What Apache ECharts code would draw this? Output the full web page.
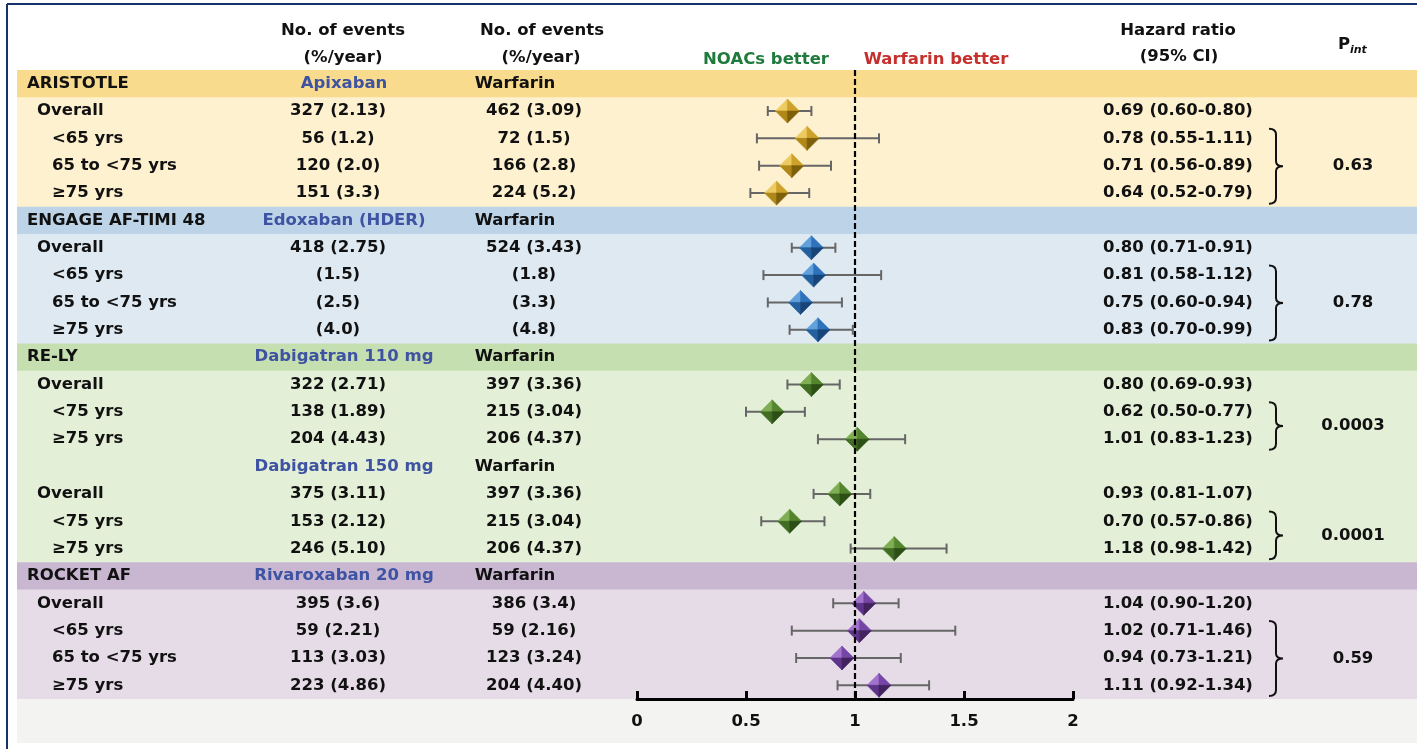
<!DOCTYPE html>
<html><head><meta charset="utf-8">
<script src="https://cdn.jsdelivr.net/npm/echarts@6/dist/echarts.min.js"></script>
<style>html,body{margin:0;padding:0;background:#fff}#c{width:1417px;height:749px}</style>
</head><body><div id="c"></div>
<script>
const trials = ['ARISTOTLE', 'ENGAGE AF-TIMI 48', 'RE-LY', 'ROCKET AF'];
const rowLabels = ['ARISTOTLE', 'Overall', '<65 yrs', '65 to <75 yrs', '≥75 yrs',
  'ENGAGE AF-TIMI 48', 'Overall', '<65 yrs', '65 to <75 yrs', '≥75 yrs',
  'RE-LY', 'Overall', '<75 yrs', '≥75 yrs',
  '', 'Overall', '<75 yrs', '≥75 yrs',
  'ROCKET AF', 'Overall', '<65 yrs', '65 to <75 yrs', '≥75 yrs'];
const rowKinds = ['study', 'overall', 'sub', 'sub', 'sub',
  'study', 'overall', 'sub', 'sub', 'sub',
  'study', 'overall', 'sub', 'sub',
  'drug', 'overall', 'sub', 'sub',
  'study', 'overall', 'sub', 'sub', 'sub'];
const rowTrial = [0, 0, 0, 0, 0, 1, 1, 1, 1, 1, 2, 2, 2, 2, 2, 2, 2, 2, 3, 3, 3, 3, 3];
const noacEvents = ['Apixaban', '327 (2.13)', '56 (1.2)', '120 (2.0)', '151 (3.3)',
  'Edoxaban (HDER)', '418 (2.75)', '(1.5)', '(2.5)', '(4.0)',
  'Dabigatran 110 mg', '322 (2.71)', '138 (1.89)', '204 (4.43)',
  'Dabigatran 150 mg', '375 (3.11)', '153 (2.12)', '246 (5.10)',
  'Rivaroxaban 20 mg', '395 (3.6)', '59 (2.21)', '113 (3.03)', '223 (4.86)'];
const warfarinEvents = ['Warfarin', '462 (3.09)', '72 (1.5)', '166 (2.8)', '224 (5.2)',
  'Warfarin', '524 (3.43)', '(1.8)', '(3.3)', '(4.8)',
  'Warfarin', '397 (3.36)', '215 (3.04)', '206 (4.37)',
  'Warfarin', '397 (3.36)', '215 (3.04)', '206 (4.37)',
  'Warfarin', '386 (3.4)', '59 (2.16)', '123 (3.24)', '204 (4.40)'];
const hazardRatio = [null, 0.69, 0.78, 0.71, 0.64, null, 0.80, 0.81, 0.75, 0.83, null, 0.80, 0.62, 1.01, null, 0.93, 0.70, 1.18, null, 1.04, 1.02, 0.94, 1.11];
const ciLower = [null, 0.60, 0.55, 0.56, 0.52, null, 0.71, 0.58, 0.60, 0.70, null, 0.69, 0.50, 0.83, null, 0.81, 0.57, 0.98, null, 0.90, 0.71, 0.73, 0.92];
const ciUpper = [null, 0.80, 1.11, 0.89, 0.79, null, 0.91, 1.12, 0.94, 0.99, null, 0.93, 0.77, 1.23, null, 1.07, 0.86, 1.42, null, 1.20, 1.46, 1.21, 1.34];
const interactionRows = [[2, 4], [7, 9], [12, 13], [16, 17], [20, 22]];
const pInteraction = ['0.63', '0.78', '0.0003', '0.0001', '0.59'];
const xTicks = [0, 0.5, 1, 1.5, 2];

// styling
const FONT = 'bold 16.5px "DejaVu Sans"';
const TXT = '#111';
const DRUG = '#3E53A2';
const bandColors = [['#F9DB8E', '#FEF1CF'], ['#BCD3E8', '#DEE9F2'], ['#C6DFB0', '#E3EFD6'], ['#C9B7D2', '#E6DCE8']];
const facets = [
  ['#EDCB62', '#CDA12A', '#B08818', '#7E600C'],
  ['#62A0DC', '#2E72BC', '#245F9E', '#17457A'],
  ['#7FAE55', '#52852E', '#406D23', '#2C4F16'],
  ['#A173CC', '#7646A6', '#5E348A', '#43235F']
];
const fmt = v => v.toFixed(2);

const chart = echarts.init(document.getElementById('c'), null, {renderer: 'canvas'});

function txt(x, y, text, align, fill) {
  return {type: 'text', x: x, y: y, style: {text: text, font: FONT, fill: fill || TXT, align: align, verticalAlign: 'middle', textAlign: align, textVerticalAlign: 'middle'}};
}

const rowIdx = rowLabels.map((_, i) => i);

chart.setOption({
  animation: false,
  grid: {left: 637, right: 344, top: 70, height: 629, containLabel: false},
  xAxis: {
    type: 'value', min: xTicks[0], max: xTicks[xTicks.length - 1], interval: 0.5,
    axisLine: {show: true, lineStyle: {color: '#000', width: 3}},
    axisTick: {show: true, inside: true, length: 8, lineStyle: {color: '#000', width: 3}},
    axisLabel: {margin: 14, fontFamily: 'DejaVu Sans', fontWeight: 'bold', fontSize: 16.5, color: '#111'},
    splitLine: {show: false}
  },
  yAxis: {type: 'category', inverse: true, data: rowIdx.map(String), show: false},
  graphic: [
    {type: 'line', shape: {x1: 7, y1: 4, x2: 1417, y2: 4}, style: {stroke: '#17336B', lineWidth: 2}},
    {type: 'line', shape: {x1: 7, y1: 4, x2: 7, y2: 749}, style: {stroke: '#17336B', lineWidth: 2}},
    txt(343, 31, 'No. of events', 'center'),
    txt(343, 58, '(%/year)', 'center'),
    txt(542, 31, 'No. of events', 'center'),
    txt(541, 58, '(%/year)', 'center'),
    txt(766, 60, 'NOACs better', 'center', '#1F7A3C'),
    txt(936, 60, 'Warfarin better', 'center', '#C5302D'),
    txt(1178, 31, 'Hazard ratio', 'center'),
    txt(1179, 57, '(95% CI)', 'center'),
    {type: 'text', x: 1350, y: 45, style: {text: 'P', font: FONT, fill: TXT, align: 'right', verticalAlign: 'middle', textAlign: 'right', textVerticalAlign: 'middle'}},
    {type: 'text', x: 1350, y: 50, style: {text: 'int', font: 'italic bold 11px "DejaVu Sans"', fill: TXT, align: 'left', verticalAlign: 'middle', textAlign: 'left', textVerticalAlign: 'middle'}}
  ],
  series: [
    {
      type: 'custom', z: -1, clip: false, silent: true,
      data: rowIdx.map(i => [0, i]),
      encode: {x: 0, y: 1},
      renderItem: function (params, api) {
        const i = api.value(1);
        const h = api.size([0, 1])[1];
        const yc = api.coord([0, i])[1];
        const W = api.getWidth();
        const col = bandColors[rowTrial[i]][rowKinds[i] === 'study' ? 0 : 1];
        const ch = [{type: 'rect', shape: {x: 17, y: yc - h / 2, width: W - 17, height: h + 0.6}, style: {fill: col}}];
        if (i === rowLabels.length - 1) {
          ch.push({type: 'rect', shape: {x: 17, y: yc + h / 2, width: W - 17, height: 44}, style: {fill: '#F3F3F1'}});
        }
        return {type: 'group', children: ch};
      }
    },
    {
      type: 'line', data: [], z: 1, silent: true,
      markLine: {silent: true, symbol: 'none', label: {show: false},
        lineStyle: {color: '#000', width: 2.2, type: [6, 3]}, data: [{xAxis: 1}]}
    },
    {
      type: 'custom', z: 3, clip: false, silent: true,
      data: rowIdx.map(i => [0, i]),
      encode: {x: 0, y: 1},
      renderItem: function (params, api) {
        const i = api.value(1);
        const yc = api.coord([0, i])[1];
        const kind = rowKinds[i];
        const head = kind === 'study' || kind === 'drug';
        const ch = [];
        if (rowLabels[i]) {
          const lx = kind === 'study' ? 27 : (kind === 'overall' ? 37 : 52);
          ch.push(txt(lx, yc, rowLabels[i], 'left'));
        }
        ch.push(txt(head ? 344 : 338, yc, noacEvents[i], 'center', head ? DRUG : TXT));
        ch.push(txt(head ? 515 : 534, yc, warfarinEvents[i], 'center'));
        if (hazardRatio[i] != null) {
          ch.push(txt(1178, yc, fmt(hazardRatio[i]) + ' (' + fmt(ciLower[i]) + '-' + fmt(ciUpper[i]) + ')', 'center'));
        }
        return {type: 'group', children: ch};
      }
    },
    {
      type: 'custom', z: 3, clip: false, silent: true,
      data: interactionRows.map((r, k) => [0, r[0], r[1], k]),
      encode: {x: 0, y: 1},
      renderItem: function (params, api) {
        const h = api.size([0, 1])[1];
        const top = api.coord([0, api.value(1)])[1] - h / 2 + 4;
        const bot = api.coord([0, api.value(2)])[1] + h / 2 - 3;
        const mid = (top + bot) / 2;
        const x0 = 1269, w = 7;
        const d = `M${x0} ${top} Q${x0 + w} ${top} ${x0 + w} ${top + 6} L${x0 + w} ${mid - 5} Q${x0 + w} ${mid} ${x0 + 2 * w} ${mid} Q${x0 + w} ${mid} ${x0 + w} ${mid + 5} L${x0 + w} ${bot - 6} Q${x0 + w} ${bot} ${x0} ${bot}`;
        return {type: 'group', children: [
          {type: 'path', shape: {pathData: d}, style: {stroke: '#111', lineWidth: 2, fill: null}},
          txt(1353, mid, pInteraction[api.value(3)], 'center')
        ]};
      }
    },
    {
      type: 'custom', z: 4, clip: false, silent: true,
      data: hazardRatio.map((v, i) => v == null ? null : [v, i, ciLower[i], ciUpper[i], rowTrial[i]]).filter(Boolean),
      encode: {x: 0, y: 1},
      renderItem: function (params, api) {
        const y = api.value(1);
        const c = api.coord([api.value(0), y]);
        const lo = api.coord([api.value(2), y]);
        const hi = api.coord([api.value(3), y]);
        const f = facets[api.value(4)];
        const r = 12, x0 = c[0], y0 = c[1];
        const ls = {stroke: '#666', lineWidth: 2};
        const poly = (pts, col) => ({type: 'polygon', shape: {points: pts}, style: {fill: col, stroke: col, lineWidth: 0.6}});
        return {type: 'group', children: [
          {type: 'line', shape: {x1: lo[0], y1: y0, x2: hi[0], y2: y0}, style: ls},
          {type: 'line', shape: {x1: lo[0], y1: y0 - 5, x2: lo[0], y2: y0 + 5}, style: ls},
          {type: 'line', shape: {x1: hi[0], y1: y0 - 5, x2: hi[0], y2: y0 + 5}, style: ls},
          poly([[x0 - r, y0], [x0, y0 - r], [x0, y0]], f[0]),
          poly([[x0, y0 - r], [x0 + r, y0], [x0, y0]], f[1]),
          poly([[x0 - r, y0], [x0, y0 + r], [x0, y0]], f[2]),
          poly([[x0 + r, y0], [x0, y0 + r], [x0, y0]], f[3])
        ]};
      }
    }
  ]
});
</script>
</body></html>
